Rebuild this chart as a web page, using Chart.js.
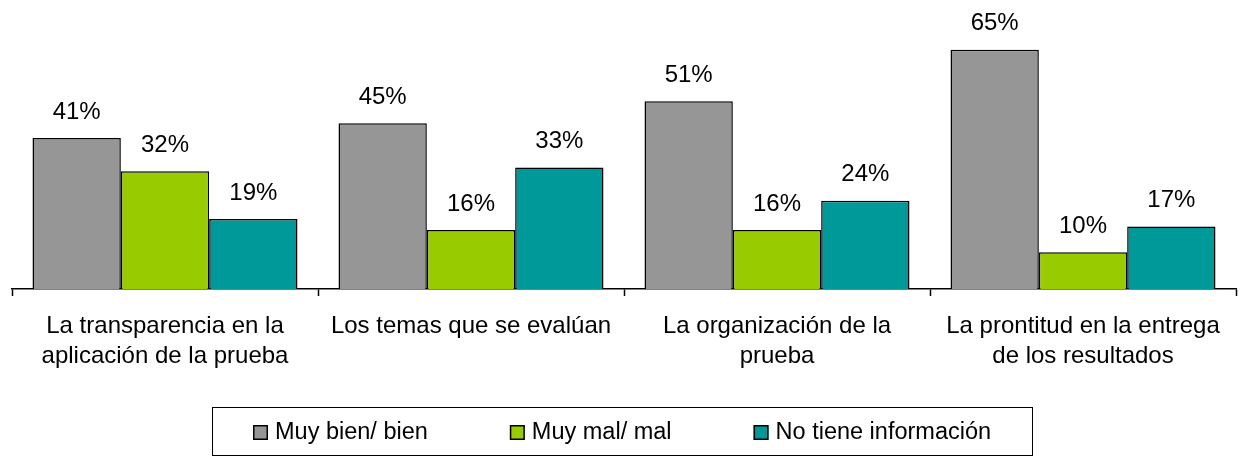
<!DOCTYPE html>
<html>
<head>
<meta charset="utf-8">
<script src="https://cdn.jsdelivr.net/npm/chart.js@4/dist/chart.umd.min.js"></script>
<style>
  html, body { margin: 0; padding: 0; background: #ffffff; }
  #wrap { width: 1244px; height: 456px; position: relative; }
</style>
</head>
<body>
<div id="wrap"><canvas id="c" width="1244" height="456"></canvas></div>
<script>
const categories = [
  ["La transparencia en la", "aplicación de la prueba"],
  ["Los temas que se evalúan"],
  ["La organización de la", "prueba"],
  ["La prontitud en la entrega", "de los resultados"]
];
const seriesNames = ["Muy bien/ bien", "Muy mal/ mal", "No tiene información"];
const muyBien = [41, 45, 51, 65];
const muyMal = [32, 16, 16, 10];
const noInfo = [19, 33, 24, 17];
const seriesColors = ["#969696", "#99CC00", "#009999"];

const FONT = "'Liberation Sans', Arial, sans-serif";

const valueLabels = {
  id: 'valueLabels',
  afterDatasetsDraw(chart) {
    const ctx = chart.ctx;
    ctx.save();
    ctx.font = "24px " + FONT;
    ctx.fillStyle = "#000";
    ctx.textAlign = "center";
    ctx.textBaseline = "middle";
    chart.data.datasets.forEach((ds, i) => {
      chart.getDatasetMeta(i).data.forEach((el, j) => {
        ctx.fillText(ds.data[j] + "%", el.x, el.y - 26);
      });
    });
    ctx.restore();
  }
};

const boxedLegend = {
  id: 'boxedLegend',
  afterDraw(chart) {
    const ctx = chart.ctx;
    ctx.save();
    ctx.strokeStyle = "#000";
    ctx.lineWidth = 1;
    ctx.strokeRect(212.5, 407.5, 820, 48);
    ctx.font = "23.5px " + FONT;
    ctx.textBaseline = "middle";
    ctx.textAlign = "left";
    let x = 253;
    const cy = 432.5;
    chart.data.datasets.forEach((ds, i) => {
      ctx.fillStyle = ds.backgroundColor;
      ctx.fillRect(x, cy - 7.5, 15, 15);
      ctx.lineWidth = 1.5;
      ctx.strokeStyle = "#000";
      ctx.strokeRect(x + 0.75, cy - 6.75, 13.5, 13.5);
      ctx.fillStyle = "#000";
      ctx.fillText(ds.label, x + 22, cy);
      x += 22 + ctx.measureText(ds.label).width + 82;
    });
    ctx.restore();
  }
};

new Chart(document.getElementById('c'), {
  type: 'bar',
  data: {
    labels: categories,
    datasets: [
      { label: seriesNames[0], data: muyBien, backgroundColor: seriesColors[0] },
      { label: seriesNames[1], data: muyMal, backgroundColor: seriesColors[1] },
      { label: seriesNames[2], data: noInfo, backgroundColor: seriesColors[2] }
    ]
  },
  options: {
    responsive: false,
    animation: false,
    devicePixelRatio: 1,
    layout: { padding: { left: 12, right: 8, top: 0, bottom: 0 } },
    datasets: {
      bar: {
        borderColor: "#000",
        borderWidth: 1.5,
        categoryPercentage: 0.866,
        barPercentage: 1.0
      }
    },
    plugins: {
      legend: { display: false },
      tooltip: { enabled: false }
    },
    scales: {
      y: { display: false, min: 0, max: 78.5 },
      x: {
        afterFit(scale) { scale.height = 167; },
        border: { display: true, color: "#000", width: 1.5 },
        grid: {
          display: true,
          drawOnChartArea: false,
          drawTicks: true,
          tickLength: 7,
          tickColor: "#000",
          tickWidth: 1.5,
          offset: true
        },
        ticks: {
          color: "#000",
          padding: 16,
          maxRotation: 0,
          autoSkip: false,
          font: { family: FONT, size: 24, lineHeight: 1.22 }
        }
      }
    }
  },
  plugins: [valueLabels, boxedLegend]
});
</script>
</body>
</html>
